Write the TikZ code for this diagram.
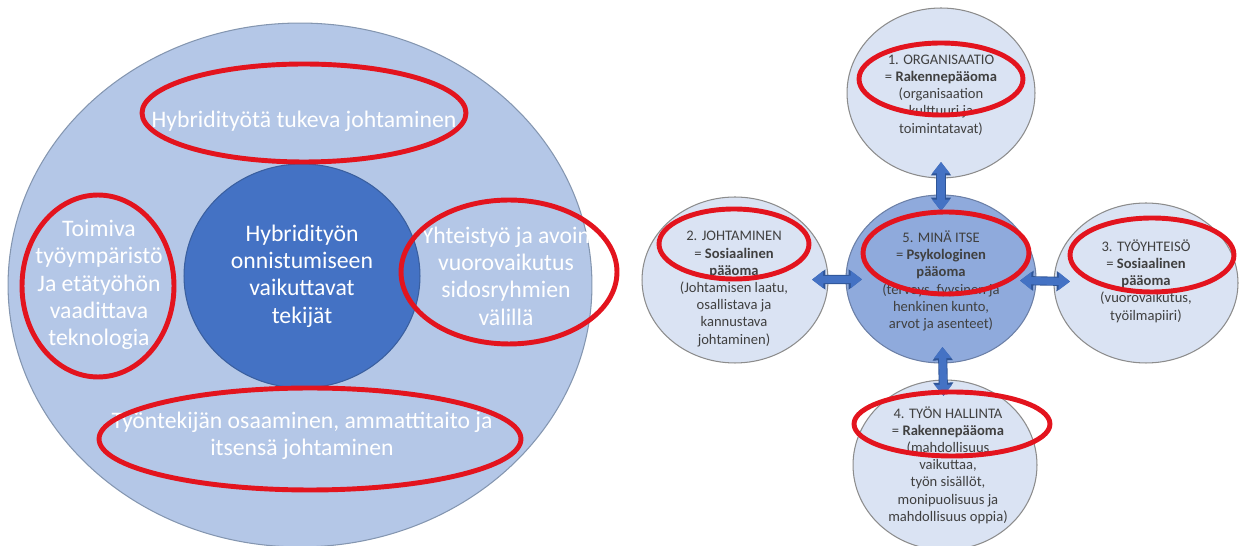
\documentclass[tikz,border=0pt]{standalone}
\usepackage{fontspec}
\setmainfont{Carlito}
\usetikzlibrary{shapes.geometric,arrows.meta}
\definecolor{outerfill}{HTML}{B4C7E7}
\definecolor{outerline}{HTML}{8496B0}
\definecolor{corefill}{HTML}{4472C4}
\definecolor{coreline}{HTML}{3A5F9F}
\definecolor{bubblefill}{HTML}{DAE3F3}
\definecolor{bubbleline}{HTML}{8C8C8C}
\definecolor{selffill}{HTML}{8FAADC}
\definecolor{selfline}{HTML}{6B7FA6}
\definecolor{arrowfill}{HTML}{4472C4}
\definecolor{arrowline}{HTML}{2F5597}
\definecolor{ringred}{HTML}{E3141E}
\definecolor{textgrey}{HTML}{404040}
\begin{document}
\begin{tikzpicture}[x=0.02cm, y=-0.02cm,
        disc/.style={ellipse, inner sep=0pt},
        ring/.style={ellipse, inner sep=0pt, draw=ringred, line width=2.8pt},
        bigtxt/.style={align=center, text=white, font=\fontsize{13.5}{15.6}\selectfont},
        smalltxt/.style={align=center, text=textgrey, font=\fontsize{8.3}{9.8}\selectfont},
        bubble/.style={disc, fill=bubblefill, draw=bubbleline, line width=0.6pt},
        link/.style={line width=4.2pt, draw=arrowfill,
            {Triangle[width=9.6pt,length=6.4pt]}-{Triangle[width=9.6pt,length=6.4pt]},
            shorten <=-0.33cm, shorten >=-0.33cm,
            preaction={draw=arrowline, line width=5.2pt,
            {Triangle[width=11pt,length=7.6pt]}-{Triangle[width=11pt,length=7.6pt]}}}]
        \useasboundingbox (0,0) rectangle (1241,546);

        \node [disc, fill=outerfill, draw=outerline, line width=0.6pt, minimum width=11.68cm, minimum height=10.48cm] (outer) at (300,285) {};
        \node [disc, fill=corefill, draw=coreline, line width=0.6pt, minimum width=4.72cm, minimum height=4.48cm, bigtxt] (core) at (302,276) {Hybridityön\\onnistumiseen\\vaikuttavat\\tekijät};

        \node [bigtxt] (lead) at (304,121) {Hybridityötä tukeva johtaminen};
        \node [bigtxt] (tech) at (99,285) {Toimiva\\työympäristö\\Ja etätyöhön\\vaadittava\\teknologia};
        \node [bigtxt] (coop) at (506,276) {Yhteistyö ja avoin\\vuorovaikutus\\sidosryhmien\\välillä};
        \node [bigtxt] (skill) at (302,436) {Työntekijän osaaminen, ammattitaito ja\\itsensä johtaminen};

        \node [ring, minimum width=6.48cm, minimum height=1.96cm] (rlead) at (304,113) {};
        \node [ring, minimum width=3.04cm, minimum height=3.64cm] (rtech) at (98,286) {};
        \node [ring, minimum width=4.32cm, minimum height=2.88cm] (rcoop) at (509,272) {};
        \node [ring, minimum width=8.44cm, minimum height=2.04cm] (rskill) at (310,439) {};

        \node [bubble, minimum width=3.76cm, minimum height=3.40cm] (c1) at (941,93) {};
        \node [bubble, minimum width=3.72cm, minimum height=3.32cm] (c2) at (735,280) {};
        \node [bubble, minimum width=3.68cm, minimum height=3.20cm] (c3) at (1146,283) {};
        \node [bubble, minimum width=3.68cm, minimum height=3.40cm] (c4) at (945,465) {};
        \node [disc, fill=selffill, draw=selfline, line width=0.6pt, minimum width=3.80cm, minimum height=3.36cm] (c5) at (941,279) {};

        \draw [link] (c1) -- (c5);
        \draw [link] (c2) -- (c5);
        \draw [link] (c5) -- (c3);
        \draw [link] (c5) -- (c4);

        \node [smalltxt] (t1) at (941,95) {1. ORGANISAATIO\\= \textbf{Rakennepääoma}\\(organisaation\\kulttuuri ja\\toimintatavat)};
        \node [smalltxt] (t2) at (734,289) {2. JOHTAMINEN\\= \textbf{Sosiaalinen}\\\textbf{pääoma}\\(Johtamisen laatu,\\osallistava ja\\kannustava\\johtaminen)};
        \node [smalltxt] (t3) at (1146,281) {3. TYÖYHTEISÖ\\= \textbf{Sosiaalinen}\\\textbf{pääoma}\\(vuorovaikutus,\\työilmapiiri)};
        \node [smalltxt] (t4) at (948,465) {4. TYÖN HALLINTA\\= \textbf{Rakennepääoma}\\(mahdollisuus\\vaikuttaa,\\työn sisällöt,\\monipuolisuus ja\\mahdollisuus oppia)};
        \node [smalltxt] (t5) at (941,281) {5. MINÄ ITSE\\= \textbf{Psykologinen}\\\textbf{pääoma}\\(terveys, fyysinen ja\\henkinen kunto,\\arvot ja asenteet)};

        \node [ring, minimum width=3.28cm, minimum height=1.44cm] (r1) at (941,79) {};
        \node [ring, minimum width=3.00cm, minimum height=1.40cm] (r2) at (734,244) {};
        \node [ring, minimum width=3.28cm, minimum height=1.48cm] (r3) at (1152,255) {};
        \node [ring, minimum width=3.92cm, minimum height=1.28cm] (r4) at (952,424) {};
        \node [ring, minimum width=3.32cm, minimum height=1.64cm] (r5) at (946,253) {};

    \end{tikzpicture}
\end{document}
